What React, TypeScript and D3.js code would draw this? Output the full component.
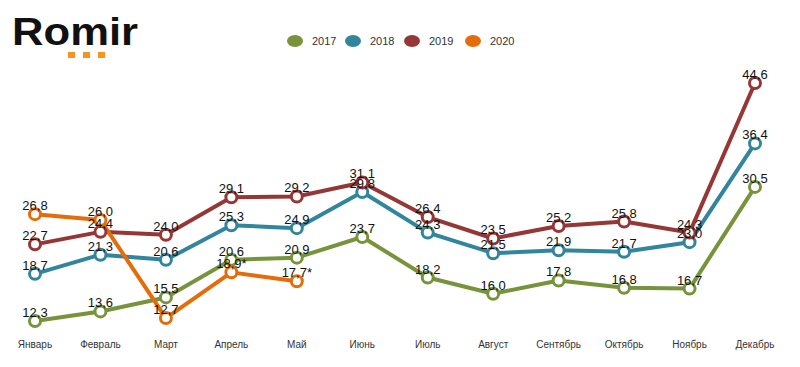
import React from "react";
import * as d3 from "d3";

const months = ["Январь","Февраль","Март","Апрель","Май","Июнь","Июль","Август","Сентябрь","Октябрь","Ноябрь","Декабрь"];
const years = ["2017","2018","2019","2020"];
const colors = ["#77933C","#31859C","#953735","#E46C0A"];
const v2017 = [12.3,13.6,15.5,20.6,20.9,23.7,18.2,16.0,17.8,16.8,16.7,30.5];
const v2018 = [18.7,21.3,20.6,25.3,24.9,29.8,24.3,21.5,21.9,21.7,23.0,36.4];
const v2019 = [22.7,24.4,24.0,29.1,29.2,31.1,26.4,23.5,25.2,25.8,24.3,44.6];
const v2020 = [26.8,26.0,12.7,18.9,17.7];
const labels2020 = ["26,8","26,0","12,7","18,9*","17,7*"];

const series = [v2017, v2018, v2019, v2020];

export default function App() {
  const W = 800, H = 367;
  const x = d3.scalePoint<string>().domain(months).range([35, 755]);
  const y = d3.scaleLinear().domain([12.3, 44.6]).range([321, 83]);
  const line = d3.line<number>().x((_, i) => x(months[i])!).y(d => y(d));
  const fmt = (v: number) => v.toFixed(1).replace(".", ",");
  const font = "Arial, 'Liberation Sans', sans-serif";
  const legendX = [295, 353, 412, 473];
  return (
    <svg width={W} height={H} style={{ position: "absolute", left: 0, top: 0, background: "#fff" }} fontFamily={font}>
      <rect width={W} height={H} fill="#fff" />
      <text x={12} y={45} fontSize={38} fontWeight="bold" fill="#111" textLength={126} lengthAdjust="spacingAndGlyphs">Romir</text>
      {[68, 83, 98].map((sx, i) => (
        <rect key={i} x={sx} y={52} width={7} height={6} fill="#F7941D" />
      ))}
      {years.map((yr, i) => (
        <g key={yr}>
          <ellipse cx={legendX[i]} cy={41} rx={8} ry={6} fill={colors[i]} />
          <text x={legendX[i] + 17} y={45} fontSize={11} fill="#333">{yr}</text>
        </g>
      ))}
      {months.map(m => (
        <text key={m} x={x(m)!} y={348} fontSize={10} textAnchor="middle" fill="#333">{m}</text>
      ))}
      {series.map((s, si) => (
        <path key={si} d={line(s)!} fill="none" stroke={colors[si]} strokeWidth={4} strokeLinejoin="round" />
      ))}
      {series.map((s, si) => (
        <g key={"c" + si}>
          {s.map((v, i) => (
            <circle key={i} cx={x(months[i])!} cy={y(v)} r={5.5} fill="#fff" stroke={colors[si]} strokeWidth={3} />
          ))}
        </g>
      ))}
      {series.map((s, si) => (
        <g key={"t" + si}>
          {s.map((v, i) => (
            <text key={i} x={x(months[i])!} y={y(v) - 4} fontSize={13} textAnchor="middle" fill="#111">
              {si === 3 ? labels2020[i] : fmt(v)}
            </text>
          ))}
        </g>
      ))}
    </svg>
  );
}
